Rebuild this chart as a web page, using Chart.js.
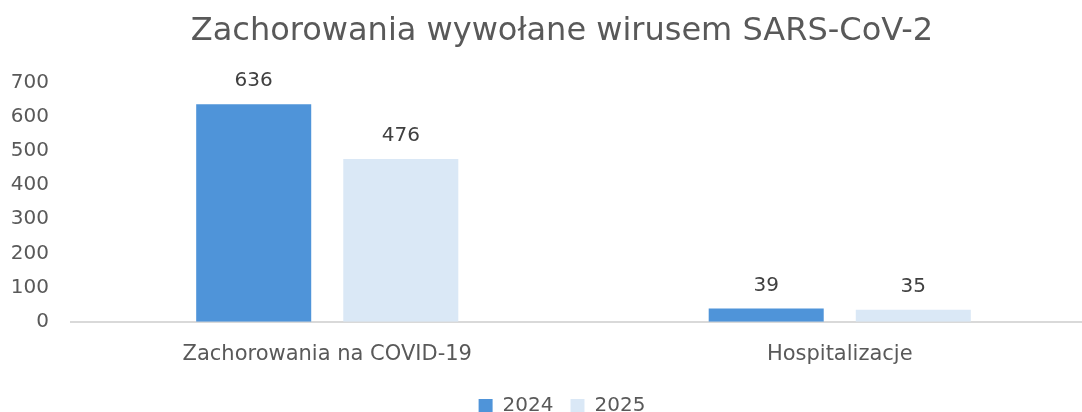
<!DOCTYPE html>
<html>
<head>
<meta charset="utf-8">
<script src="https://cdn.jsdelivr.net/npm/chart.js@4/dist/chart.umd.min.js"></script>
<style>
  html, body { margin: 0; padding: 0; background: #fff; overflow: hidden; }
  #wrap { width: 1082px; height: 412px; overflow: hidden; }
</style>
</head>
<body>
<div id="wrap"><canvas id="covidChart" width="1116" height="430"></canvas></div>
<script>
// Chart data
const categories = ["Zachorowania na COVID-19", "Hospitalizacje"];
const seriesNames = ["2024", "2025"];
const values2024 = [636, 39];
const values2025 = [476, 35];
const yTicks = [0, 100, 200, 300, 400, 500, 600, 700];

const FONT = "'DejaVu Sans', sans-serif";

// Value labels above each bar
const barLabels = {
  id: "barLabels",
  afterDatasetsDraw(chart) {
    const ctx = chart.ctx;
    ctx.save();
    ctx.font = "20px " + FONT;
    ctx.fillStyle = "#404040";
    ctx.textAlign = "center";
    ctx.textBaseline = "bottom";
    chart.data.datasets.forEach((ds, i) => {
      chart.getDatasetMeta(i).data.forEach((bar, j) => {
        ctx.fillText(ds.data[j], bar.x, bar.y - 13);
      });
    });
    ctx.restore();
  }
};

new Chart(document.getElementById("covidChart"), {
  type: "bar",
  data: {
    labels: categories,
    datasets: [
      { label: seriesNames[0], data: values2024, backgroundColor: "#4f94d9" },
      { label: seriesNames[1], data: values2025, backgroundColor: "#dae8f6" }
    ]
  },
  options: {
    responsive: false,
    animation: false,
    categoryPercentage: 0.574,
    barPercentage: 0.782,
    layout: { padding: { left: 8, right: 0, top: 8, bottom: 4 } },
    plugins: {
      title: {
        display: true,
        text: "Zachorowania wywołane wirusem SARS-CoV-2",
        color: "#595959",
        font: { family: FONT, size: 32, weight: "normal" },
        padding: { top: 4, bottom: 32 }
      },
      legend: {
        position: "bottom",
        labels: {
          color: "#595959",
          font: { family: FONT, size: 20 },
          boxWidth: 14,
          boxHeight: 14,
          padding: 17
        }
      },
      tooltip: { enabled: false }
    },
    scales: {
      x: {
        grid: { display: false },
        border: { display: true, color: "#d9d9d9", width: 2 },
        ticks: { color: "#595959", font: { family: FONT, size: 21 }, padding: 12 },
        afterFit: scale => { scale.paddingLeft = 0; scale.paddingRight = 20; }
      },
      y: {
        min: 0,
        max: 700,
        afterBuildTicks: axis => { axis.ticks = yTicks.map(v => ({ value: v })); },
        afterFit: scale => { scale.width = 63; },
        grid: { display: false },
        border: { display: false },
        ticks: { color: "#595959", font: { family: FONT, size: 20 }, padding: 14 }
      }
    }
  },
  plugins: [barLabels]
});
</script>
</body>
</html>
